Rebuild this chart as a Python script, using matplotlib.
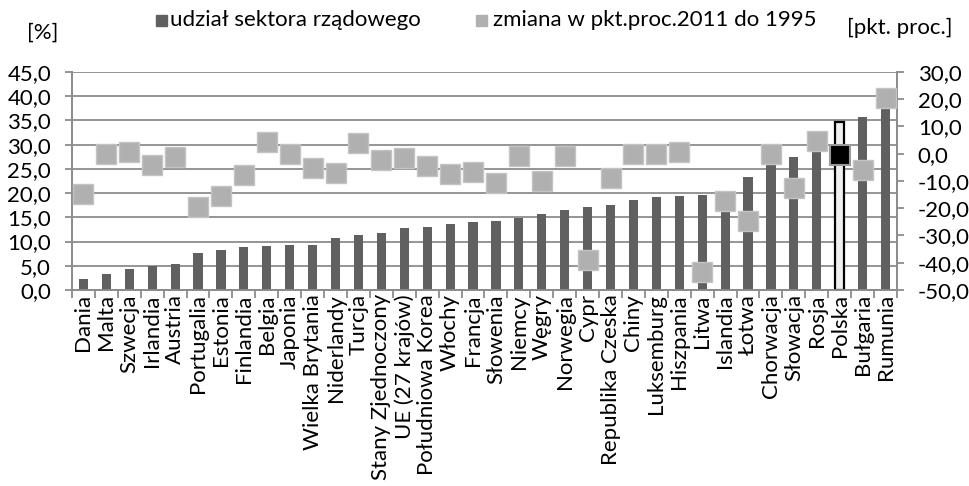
import matplotlib
matplotlib.use("Agg")
import matplotlib.pyplot as plt
from matplotlib.patches import Rectangle
from matplotlib.ticker import FuncFormatter, MultipleLocator
import numpy as np

plt.rcParams['font.family'] = ['Lato', 'DejaVu Sans']

# kraje, posortowane wg udziału sektora rządowego
countries = ["Dania", "Malta", "Szwecja", "Irlandia", "Austria", "Portugalia",
             "Estonia", "Finlandia", "Belgia", "Japonia", "Wielka Brytania",
             "Niderlandy", "Turcja", "Stany Zjednoczony", "UE (27 krajów)",
             "Południowa Korea", "Włochy", "Francja", "Słowenia", "Niemcy",
             "Węgry", "Norwegia", "Cypr", "Republika Czeska", "Chiny",
             "Luksemburg", "Hiszpania", "Litwa", "Islandia", "Łotwa",
             "Chorwacja", "Słowacja", "Rosja", "Polska", "Bułgaria", "Rumunia"]

# udział sektora rządowego [%]
gov_share = [2.2, 3.2, 4.4, 4.9, 5.4, 7.6, 8.2, 8.9, 9.1, 9.2, 9.3,
             10.8, 11.3, 11.7, 12.7, 13.0, 13.7, 14.1, 14.2, 14.9,
             15.7, 16.5, 17.1, 17.5, 18.6, 19.1, 19.5, 19.6, 19.8, 23.3,
             27.2, 27.5, 30.5, 34.6, 35.8, 39.6]

# zmiana w pkt. proc. 2011 do 1995
change = [-14.9, -0.1, 0.8, -4.1, -1.1, -19.4, -15.5, -7.8, 4.2, -0.2, -5.3,
          -7.2, 3.8, -2.3, -1.6, -4.5, -7.4, -6.8, -10.8, -0.7,
          -9.9, -0.7, -39.1, -8.9, -0.2, -0.2, 0.8, -43.5, -17.2, -24.6,
          -0.2, -12.7, 4.7, -0.5, -6.0, 20.6]

highlight = "Polska"

bar_color = "#606060"
marker_color = "#b0b0b0"
grid_color = "#8c8c8c"
fs = 16

fig = plt.figure(figsize=(9.7, 4.86), dpi=100)
ax = fig.add_axes([0.0742, 0.4033, 0.8505, 0.4486])
ax2 = ax.twinx()

x = np.arange(len(countries))
hi = countries.index(highlight)

bar_cols = [bar_color] * len(countries)
bar_cols[hi] = "#f0f0f0"
edge_cols = [bar_color] * len(countries)
edge_cols[hi] = "black"
lws = [0] * len(countries)
lws[hi] = 1.6
ax.bar(x, gov_share, width=0.4, color=bar_cols, edgecolor=edge_cols,
       linewidth=lws, zorder=3)

mask = np.array([c != highlight for c in countries])
ch = np.array(change)
ax2.plot(x[mask], ch[mask], linestyle="none", marker="s", markersize=14.5,
         markerfacecolor=marker_color, markeredgecolor="#c4c4c4",
         markeredgewidth=1, zorder=4)
ax2.plot(x[hi], ch[hi], linestyle="none", marker="s", markersize=14.5,
         markerfacecolor="black", markeredgecolor="#9a9a9a",
         markeredgewidth=1.5, zorder=5)

comma = FuncFormatter(lambda v, p: f"{v:.1f}".replace(".", ","))

ax.set_xlim(-0.5, len(countries) - 0.5)
ax.set_ylim(0, 45)
ax.yaxis.set_major_locator(MultipleLocator(5))
ax.yaxis.set_major_formatter(comma)
ax2.set_ylim(-50, 30)
ax2.yaxis.set_major_locator(MultipleLocator(10))
ax2.yaxis.set_major_formatter(comma)

ax.grid(axis="y", color=grid_color, linewidth=1.3, zorder=0)
ax.set_axisbelow(True)

for a in (ax, ax2):
    a.spines["top"].set_visible(False)
    for s in ("left", "right", "bottom"):
        a.spines[s].set_color(grid_color)
        a.spines[s].set_linewidth(1.3)
    a.tick_params(axis="y", colors=grid_color, labelcolor="black",
                  labelsize=fs, length=5, width=1.3, pad=10)

ax.set_xticks(x)
ax.set_xticklabels(countries, rotation=90, fontsize=fs)
ax.set_xticks(np.arange(len(countries) + 1) - 0.5, minor=True)
ax.tick_params(axis="x", which="major", length=0, pad=3)
ax.tick_params(axis="x", which="minor", length=6, width=1.3, colors=grid_color)

# opisy osi
fig.text(43 / 970, 1 - 33 / 486, "[%]", fontsize=fs, ha="center", va="center")
fig.text(900 / 970, 1 - 28 / 486, "[pkt. proc.]", fontsize=fs, ha="center",
         va="center")

# legenda
sq_w, sq_h = 11 / 970, 11 / 486
fig.add_artist(Rectangle((156 / 970, 1 - 26 / 486), sq_w, sq_h,
                         transform=fig.transFigure, color=bar_color))
fig.text(170 / 970, 1 - 20 / 486, "udział sektora rządowego", fontsize=fs,
         ha="left", va="center")
fig.add_artist(Rectangle((476 / 970, 1 - 26 / 486), sq_w, sq_h,
                         transform=fig.transFigure, color=marker_color))
fig.text(493 / 970, 1 - 20 / 486, "zmiana w pkt.proc.2011 do 1995",
         fontsize=fs, ha="left", va="center")

fig.savefig("out.png", dpi=100)
